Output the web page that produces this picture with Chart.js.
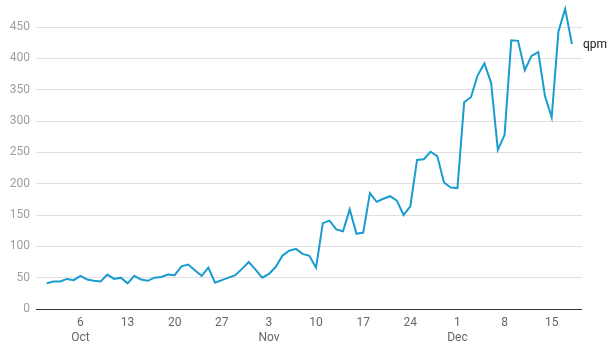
<!DOCTYPE html>
<html>
<head>
<meta charset="utf-8">
<script src="https://cdn.jsdelivr.net/npm/chart.js@4.4.0/dist/chart.umd.min.js"></script>
<style>
  html, body { margin: 0; padding: 0; background: #fff; }
  #wrap { width: 610px; height: 353px; }
</style>
</head>
<body>
<div id="wrap"><canvas id="c" width="610" height="353"></canvas></div>
<script>
// Day index 0 = Oct 1, last = Dec 18
const seriesName = "qpm";
const qpm = [
  41, 44, 44, 48, 46, 53, 47, 45, 44, 55,
  48, 50, 41, 53, 47, 45, 50, 51, 55, 54,
  68, 71, 62, 53, 66, 42, 46, 50, 54, 64,
  75, 63, 50, 56, 67, 85, 93, 96, 88, 85,
  66, 137, 141, 127, 124, 159, 120, 122, 185, 171,
  176, 180, 173, 150, 164, 238, 239, 251, 244, 202,
  194, 193, 330, 338, 373, 392, 361, 254, 278, 429,
  428, 381, 404, 410, 340, 306, 443, 479, 423
];
const tickDays = [5, 12, 19, 26, 33, 40, 47, 54, 61, 68, 75];
const tickLabels = [["6", "Oct"], "13", "20", "27", ["3", "Nov"], "10", "17", "24", ["1", "Dec"], "8", "15"];
const yTicks = [0, 50, 100, 150, 200, 250, 300, 350, 400, 450];

const points = qpm.map((v, i) => ({ x: i, y: v }));

const endLabel = {
  id: 'endLabel',
  afterDatasetsDraw(chart) {
    const meta = chart.getDatasetMeta(0);
    const last = meta.data[meta.data.length - 1];
    const ctx = chart.ctx;
    ctx.save();
    ctx.font = '12px Roboto, "Noto Sans", sans-serif';
    ctx.fillStyle = '#222';
    ctx.textAlign = 'left';
    ctx.textBaseline = 'middle';
    ctx.fillText(seriesName, chart.chartArea.right + 1, last.y + 1);
    ctx.restore();
  }
};

new Chart(document.getElementById('c'), {
  type: 'line',
  data: {
    datasets: [{
      label: seriesName,
      data: points,
      borderColor: '#1a9cd0',
      borderWidth: 2,
      pointRadius: 0,
      tension: 0,
      fill: false,
      clip: false
    }]
  },
  options: {
    responsive: false,
    animation: false,
    layout: { padding: { top: 2, right: 28, bottom: 0, left: 0 } },
    plugins: { legend: { display: false }, tooltip: { enabled: false } },
    scales: {
      x: {
        type: 'linear',
        min: -1.6,
        max: 79.5,
        grid: { display: false, drawTicks: false },
        border: { display: false },
        afterBuildTicks(scale) { scale.ticks = tickDays.map(v => ({ value: v })); },
        afterFit(scale) { scale.height = 44; scale.paddingLeft = 0; scale.paddingRight = 0; },
        ticks: {
          autoSkip: false,
          maxRotation: 0,
          padding: 7,
          color: '#666',
          font: { family: 'Roboto', size: 12 },
          callback: (value, index) => tickLabels[index]
        }
      },
      y: {
        min: 0,
        max: 490,
        border: { display: false },
        grid: {
          drawTicks: false,
          color: (ctx) => ctx.tick && ctx.tick.value === 0 ? '#333' : '#e0e0e0',
          lineWidth: 1
        },
        afterBuildTicks(scale) { scale.ticks = yTicks.map(v => ({ value: v })); },
        afterFit(scale) { scale.width = 36; scale.paddingTop = 0; scale.paddingBottom = 0; },
        ticks: {
          padding: 6,
          color: '#9e9e9e',
          font: { family: 'Roboto', size: 12 }
        }
      }
    }
  },
  plugins: [endLabel]
});
</script>
</body>
</html>
